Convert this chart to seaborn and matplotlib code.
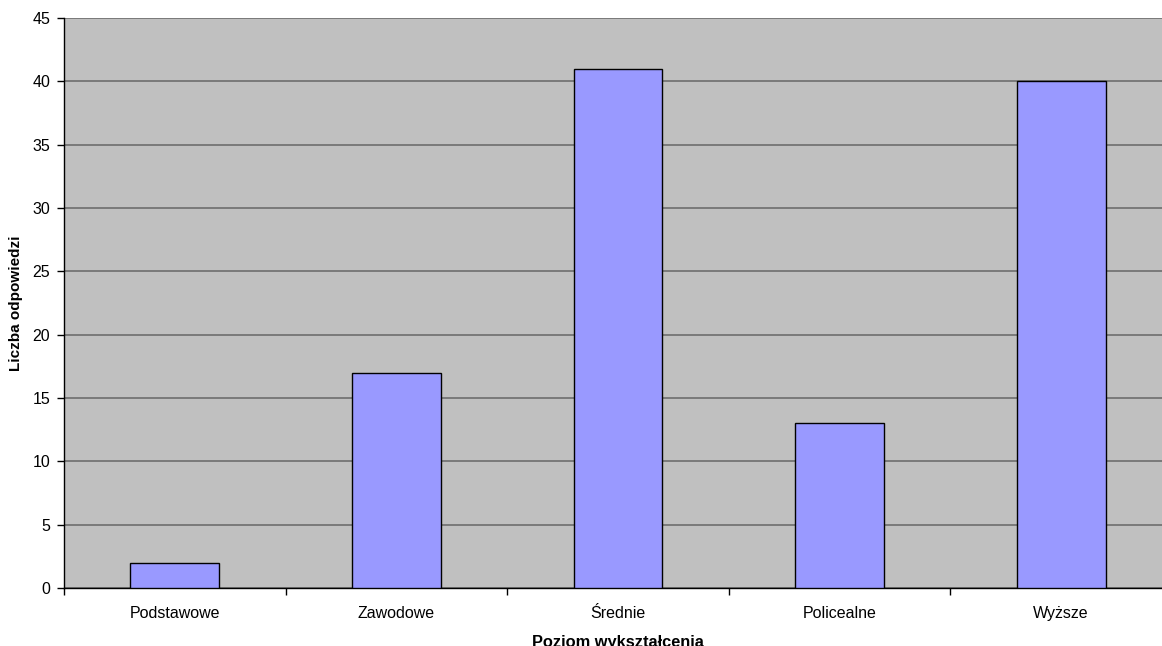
import pandas as pd
import matplotlib.pyplot as plt
import seaborn as sns

# data
categories = ['Podstawowe', 'Zawodowe', 'Średnie', 'Policealne', 'Wyższe']
counts = [2, 17, 41, 13, 40]

df = pd.DataFrame({'poziom': categories, 'liczba': counts})

sns.set_style("white")
plt.rcParams['font.family'] = ['Liberation Sans', 'DejaVu Sans']
plt.rcParams['text.color'] = 'black'
plt.rcParams['axes.labelcolor'] = 'black'
plt.rcParams['xtick.color'] = 'black'
plt.rcParams['ytick.color'] = 'black'

fig = plt.figure(figsize=(11.62, 6.46), dpi=100)
ax = fig.add_axes([64 / 1162, 1 - 588 / 646, 1108 / 1162, 570 / 646])
ax.set_facecolor('#C0C0C0')

sns.barplot(data=df, x='poziom', y='liczba', color='#9999FF', saturation=1,
            edgecolor='black', linewidth=1, width=0.4, ax=ax, zorder=3)

ax.set_ylim(0, 45)
ax.set_xlim(-0.5, 4.5)
ax.set_yticks(range(0, 46, 5))
ax.yaxis.grid(True, color='#6e6e6e', linewidth=1.2, zorder=0)
ax.set_axisbelow(True)

# category boundaries as major ticks, labels on minor ticks
ax.set_xticks([i - 0.5 for i in range(len(categories) + 1)])
ax.set_xticklabels([])
ax.set_xticks(range(len(categories)), minor=True)
ax.set_xticklabels(categories, minor=True, fontsize=11.5)
ax.tick_params(axis='x', which='major', direction='out', length=5, width=1, color='black', bottom=True)
ax.tick_params(axis='x', which='minor', length=0, pad=13)
ax.tick_params(axis='y', direction='out', length=5, width=1, color='black', left=True, labelsize=11.5, pad=5)

for s in ['top', 'right']:
    ax.spines[s].set_visible(False)
for s in ['left', 'bottom']:
    ax.spines[s].set_color('black')
    ax.spines[s].set_linewidth(1)

ax.set_xlabel('Poziom wykształcenia', fontsize=11.8, fontweight='bold', labelpad=10)
ax.set_ylabel('Liczba odpowiedzi', fontsize=11, fontweight='bold', labelpad=7)

fig.savefig('out.png', dpi=100)
